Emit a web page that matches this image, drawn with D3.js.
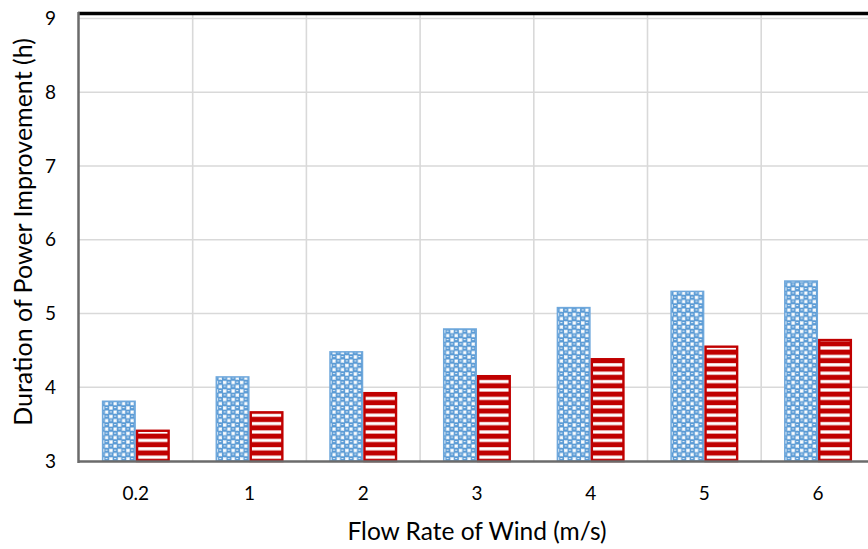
<!DOCTYPE html>
<html>
<head>
<meta charset="utf-8">
<script src="https://cdn.jsdelivr.net/npm/d3@7/dist/d3.min.js"></script>
<style>
  html, body { margin: 0; padding: 0; background: #fff; }
  svg { display: block; font-family: Lato, "Open Sans", sans-serif; }
</style>
</head>
<body>
<svg id="chart" width="868" height="549"></svg>
<script>
// Wind flow rates (m/s) and the two measured series (hours)
const categories = ["0.2", "1", "2", "3", "4", "5", "6"];
const seriesA = [3.81, 4.14, 4.48, 4.79, 5.08, 5.30, 5.44];
const seriesB = [3.41, 3.66, 3.92, 4.15, 4.38, 4.55, 4.64];
const yTicks = [3, 4, 5, 6, 7, 8, 9];

(function () {
const svg = d3.select("#chart");
const plotLeft = 79, plotTop = 18.5, plotBottom = 461;
const bandW = 113.7;
const plotRight = plotLeft + bandW * categories.length;

const x = d3.scaleBand().domain(categories).range([plotLeft, plotRight]).padding(0);
const y = d3.scaleLinear().domain([3, 9]).range([plotBottom, plotTop]);

// fill patterns
const defs = svg.append("defs");
const blue = "#5B9BD5";
const pa = defs.append("pattern").attr("id", "patA")
  .attr("patternUnits", "userSpaceOnUse").attr("width", 8.5).attr("height", 8.5)
  .attr("y", plotBottom);
pa.append("rect").attr("width", 8.5).attr("height", 8.5).attr("fill", blue);
pa.append("rect").attr("x", 0.5).attr("y", 0.5).attr("width", 3.4).attr("height", 3.4).attr("fill", "#fff");
pa.append("rect").attr("x", 4.75).attr("y", 4.75).attr("width", 3.4).attr("height", 3.4).attr("fill", "#fff");
pa.append("circle").attr("cx", 6.4).attr("cy", 2.1).attr("r", 2.8).attr("fill", blue);
pa.append("rect").attr("x", 5.4).attr("y", 1.4).attr("width", 2).attr("height", 0.9).attr("fill", "#fff");
pa.append("circle").attr("cx", 2.1).attr("cy", 6.4).attr("r", 2.8).attr("fill", blue);
pa.append("rect").attr("x", 1.1).attr("y", 5.7).attr("width", 2).attr("height", 0.9).attr("fill", "#fff");

const pb = defs.append("pattern").attr("id", "patB")
  .attr("patternUnits", "userSpaceOnUse").attr("width", 8).attr("height", 8.4)
  .attr("y", plotBottom);
pb.append("rect").attr("width", 8).attr("height", 8.4).attr("fill", "#C00000");
pb.append("rect").attr("y", 3).attr("width", 8).attr("height", 3.2).attr("fill", "#fff");

// gridlines
svg.append("g").selectAll("line").data(yTicks.slice(1)).join("line")
  .attr("x1", plotLeft).attr("x2", plotRight)
  .attr("y1", d => y(d)).attr("y2", d => y(d))
  .attr("stroke", "#D9D9D9").attr("stroke-width", 1.6);
svg.append("g").selectAll("line").data(categories.slice(1)).join("line")
  .attr("x1", d => x(d)).attr("x2", d => x(d))
  .attr("y1", plotTop - 4).attr("y2", plotBottom)
  .attr("stroke", "#D9D9D9").attr("stroke-width", 1.6);

// bars
const groups = svg.append("g").selectAll("g").data(categories).join("g")
  .attr("transform", d => `translate(${x(d)},0)`);
const bw = 34;
const off = (x.bandwidth() - 2 * bw) / 2;
groups.append("rect")
  .attr("x", off + 0.75).attr("width", bw - 1.5)
  .attr("y", (d, i) => y(seriesA[i]))
  .attr("height", (d, i) => plotBottom - y(seriesA[i]))
  .attr("fill", "url(#patA)").attr("stroke", "#6FA8DC").attr("stroke-width", 1.5);
groups.append("rect")
  .attr("x", off + bw + 1.2).attr("width", bw - 2.4)
  .attr("y", (d, i) => y(seriesB[i]))
  .attr("height", (d, i) => plotBottom - y(seriesB[i]))
  .attr("fill", "url(#patB)").attr("stroke", "#C00000").attr("stroke-width", 2.4);

// frame: top border and axes
svg.append("line").attr("x1", plotLeft - 1).attr("x2", 900)
  .attr("y1", 13.5).attr("y2", 13.5).attr("stroke", "#000").attr("stroke-width", 3.5);
svg.append("line").attr("x1", plotLeft - 0.5).attr("x2", plotLeft - 0.5)
  .attr("y1", 12).attr("y2", plotBottom + 2).attr("stroke", "#6b6b6b").attr("stroke-width", 2.5);
svg.append("line").attr("x1", plotLeft - 1).attr("x2", 900)
  .attr("y1", plotBottom + 0.5).attr("y2", plotBottom + 0.5).attr("stroke", "#6b6b6b").attr("stroke-width", 2.5);

// axis labels via d3 axes
const yAxis = d3.axisLeft(y).tickValues(yTicks).tickFormat(d3.format("d")).tickSize(0).tickPadding(0);
const gy = svg.append("g").attr("transform", `translate(${plotLeft - 23},0)`).call(yAxis);
gy.select(".domain").remove();
gy.selectAll("text").attr("font-size", 19).attr("fill", "#000").attr("font-family", "Lato, sans-serif");

const xAxis = d3.axisBottom(x).tickSize(0).tickPadding(0);
const gx = svg.append("g").attr("transform", `translate(0,${plotBottom + 25})`).call(xAxis);
gx.select(".domain").remove();
gx.selectAll("text").attr("font-size", 19).attr("fill", "#000").attr("font-family", "Lato, sans-serif");

// axis titles
svg.append("text").attr("x", 477).attr("y", 540).attr("text-anchor", "middle")
  .attr("font-size", 24.5).attr("fill", "#000").text("Flow Rate of Wind (m/s)");
svg.append("text").attr("transform", "translate(32,232) rotate(-90)")
  .attr("text-anchor", "middle").attr("font-size", 25).attr("fill", "#000")
  .text("Duration of Power Improvement (h)");
})();
</script>
</body>
</html>
